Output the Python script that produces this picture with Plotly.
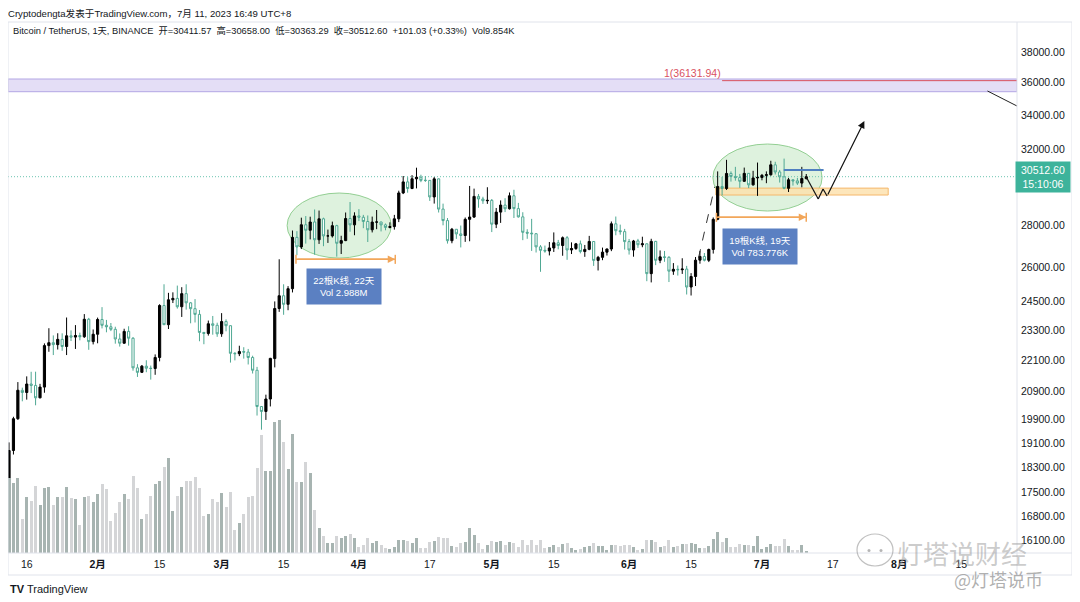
import math
import pandas as pd
import plotly.graph_objects as go

# ---------------- data (BTCUSDT daily, 2023-01-12 .. 2023-07-11) ----------------
dates = pd.date_range("2023-01-12", "2023-07-11", freq="D")

opens = [17943, 18846, 19930, 20952, 20872, 21185, 21133, 20677, 21071, 22667, 22783, 22706, 22917, 22632, 23061, 23009, 23074, 23022, 23743, 22827,
         23125, 23732, 23492, 23431, 23327, 22933, 22763, 23242, 22962, 21797, 21626, 21862, 21782, 21773, 22199, 24323, 23517, 24568, 24631, 24272, 24838, 24439, 24189, 23947, 23198, 23158, 23554, 23492,
         23142, 23647, 23476, 22362, 22346, 22431, 22410, 22198, 21704, 20363, 20187, 20633, 22157, 24197, 24747, 24375, 25055, 27424, 26965, 28038, 27768, 28176, 27307, 28334, 27494, 27494, 27994, 27140, 27268, 28348, 28033,
         28478, 28411, 28200, 27791, 28170, 28175, 28034, 27906, 27948, 28334, 29653, 30236, 29884, 30400, 30485, 30318, 30315, 29445, 30398, 28823, 28245, 27262, 27816, 27591, 27514, 28307, 28422, 29473, 29340, 29248,
         29268, 28068, 28669, 29026, 28838, 29506, 28848, 28431, 27668, 27628, 27599, 26969, 26806, 26775, 26917, 27163, 27033, 27405, 26822, 26890, 27113, 26747, 26850, 27225, 26334, 26476, 26720, 26868, 28085, 27745, 27702,
         27219, 26819, 27252, 27069, 27115, 25728, 27230, 26339, 26498, 26478, 25841, 25925, 25905, 25934, 25129, 25598, 26345, 26516, 26339, 26845, 28307, 29993, 29884, 30688, 30528, 30463, 30267, 30693, 30077, 30446,
         30472, 30586, 30617, 31156, 30767, 30504, 29896, 30346, 30292, 30172, 30411.57]

highs = [19117, 19999, 21258, 21050, 21473, 21647, 21650, 21192, 22755, 23371, 23078, 23165, 23162, 23816, 23282, 23500, 23189, 23960, 23800, 23320,
         23812, 24255, 23715, 23587, 23433, 23158, 23350, 23452, 23011, 21938, 21906, 22090, 21884, 22319, 24380, 25250, 24873, 24895, 25192, 25121, 25250, 24476, 24600, 24132, 23219, 23689, 23880, 23600,
         24000, 23739, 23479, 22410, 22662, 22603, 22534, 22267, 21834, 20367, 20792, 22185, 24500, 26386, 25250, 25168, 27756, 27725, 28390, 28472, 28439, 28803, 28748, 28390, 27802, 28194, 28037, 27500, 28650, 29184, 28660,
         28821, 28530, 28500, 28444, 28776, 28190, 28100, 28160, 28530, 29770, 30550, 30487, 30595, 31000, 30620, 30550, 30320, 30492, 30412, 29100, 28373, 27882, 27820, 28000, 28399, 30020, 29880, 29599, 29454, 29952,
         29338, 28879, 29266, 29379, 29677, 29820, 29138, 28663, 27818, 28331, 27630, 27051, 27030, 27200, 27663, 27300, 27466, 27485, 27183, 27155, 27271, 27060, 27495, 27225, 26543, 26934, 26888, 28200, 28448, 28044, 27835,
         27346, 27300, 27350, 27455, 27130, 27355, 27253, 26800, 26776, 26531, 26210, 26100, 26433, 26081, 25750, 26491, 26770, 26679, 26888, 28402, 30800, 30500, 31432, 30800, 31046, 30662, 31006, 30703, 30830, 31282,
         30660, 30800, 31380, 31325, 30877, 31500, 30449, 30380, 30445, 31046, 30658.00]

lows = [17883, 18714, 19889, 20551, 20611, 20850, 20407, 20659, 20862, 22422, 22293, 22511, 22462, 22293, 22850, 22534, 22878, 22977, 22500, 22715,
        22760, 23363, 23204, 23253, 22745, 22628, 22745, 22665, 21688, 21451, 21599, 21630, 21351, 21532, 22047, 23505, 23339, 24430, 24192, 23840, 24148, 23574, 23608, 22841, 22722, 23070, 23106, 23020,
        23020, 23245, 22000, 22086, 22252, 22153, 21927, 21580, 20042, 19549, 19888, 20366, 21814, 24054, 23930, 24123, 24890, 26578, 26865, 27125, 27325, 26601, 27108, 27000, 27156, 27415, 26508, 26631, 27241, 27696, 27525,
        28220, 27869, 27200, 27662, 27821, 27711, 27766, 27862, 27800, 28170, 29593, 29666, 29852, 29891, 30221, 30233, 29240, 29103, 28650, 28010, 27125, 27140, 27351, 26942, 27207, 27235, 28375, 28891, 29087, 29088,
        27680, 27873, 28130, 28670, 28800, 28374, 28395, 27288, 27353, 26777, 26702, 25811, 26692, 26565, 26727, 26852, 26550, 26361, 26631, 26823, 26661, 26500, 26810, 26080, 25871, 26343, 26560, 26766, 27524, 27552, 26841,
        26605, 26506, 26920, 26951, 25388, 25333, 26115, 26206, 26269, 25350, 25673, 25641, 25715, 24800, 24756, 25172, 26181, 26287, 26256, 26652, 28264, 29525, 29810, 30250, 30300, 29920, 30236, 29905, 30037, 29500,
        30320, 30166, 30566, 30633, 30200, 29850, 29701, 30038, 30073, 29950, 30363.29]

closes = [18846, 19930, 20954, 20872, 21185, 21133, 20677, 21071, 22667, 22783, 22707, 22917, 22632, 23061, 23009, 23074, 23022, 23743, 22827, 23125,
          23733, 23492, 23431, 23326, 22933, 22762, 23240, 22963, 21797, 21625, 21862, 21783, 21773, 22199, 24324, 23517, 24569, 24631, 24271, 24838, 24439, 24189, 23947, 23198, 23158, 23555, 23492, 23142,
          23647, 23475, 22362, 22346, 22431, 22410, 22197, 21705, 20363, 20187, 20633, 22163, 24197, 24746, 24375, 25055, 27423, 26966, 28039, 27768, 28175, 27307, 28334, 27493, 27494, 27994, 27139, 27268, 28348, 28033, 28478,
          28411, 28200, 27790, 28170, 28175, 28033, 27906, 27947, 28333, 29653, 30235, 29884, 30399, 30485, 30318, 30315, 29445, 30397, 28822, 28245, 27262, 27817, 27591, 27514, 28307, 28422, 29473, 29340, 29248, 29268,
          28068, 28669, 29026, 28838, 29506, 28848, 28430, 27668, 27628, 27599, 26969, 26805, 26775, 26917, 27163, 27033, 27405, 26822, 26890, 27112, 26747, 26849, 27226, 26334, 26476, 26720, 26868, 28085, 27745, 27702, 27219,
          26819, 27249, 27069, 27115, 25728, 27230, 26339, 26498, 26477, 25841, 25925, 25905, 25934, 25128, 25598, 26345, 26516, 26339, 26844, 28307, 29993, 29884, 30688, 30527, 30463, 30267, 30692, 30077, 30446, 30472,
          30585, 30617, 31156, 30767, 30504, 29895, 30346, 30292, 30171, 30414, 30512.60]

# volume in thousand BTC
volumes_k = [359, 336, 360, 163, 267, 251, 320, 230, 311, 317, 230, 269, 267, 317, 264, 259, 134, 269, 275, 243,
             285, 333, 306, 154, 192, 243, 282, 259, 368, 311, 163, 189, 272, 331, 346, 411, 455, 200, 275, 317, 346, 346, 363, 313, 179, 186, 259, 245,
             289, 219, 294, 112, 144, 186, 269, 275, 407, 566, 394, 394, 627, 638, 531, 403, 571, 341, 341, 435, 384, 205, 121, 80, 48, 48, 82, 73, 83, 90, 72,
             29, 38, 73, 48, 56, 38, 23, 19, 30, 64, 64, 58, 48, 71, 23, 25, 51, 58, 77, 72, 71, 32, 29, 49, 51, 119, 88, 48, 19, 38,
             59, 51, 58, 38, 54, 47, 29, 62, 38, 64, 38, 62, 23, 27, 38, 27, 45, 47, 23, 16, 19, 27, 35, 48, 35, 35, 16, 40, 38, 35, 40,
             38, 29, 13, 19, 62, 64, 54, 27, 35, 62, 27, 32, 42, 43, 47, 45, 24, 23, 35, 67, 102, 54, 71, 27, 29, 42, 40, 38, 35, 83,
             19, 27, 42, 32, 32, 66, 32, 16, 13, 40, 9.854]

price_tick_vals = [16100, 16800, 17500, 18300, 19100, 19900, 20900, 22100, 23300, 24500, 26000, 28000, 32000, 34000, 36000, 38000]
date_tick_vals = ["2023-01-16", "2023-02-01", "2023-02-15", "2023-03-01", "2023-03-15", "2023-04-01", "2023-04-17", "2023-05-01",
                  "2023-05-15", "2023-06-01", "2023-06-15", "2023-07-01", "2023-07-17", "2023-08-01", "2023-08-15"]
date_tick_text = ["16", "<b>2月</b>", "15", "<b>3月</b>", "15", "<b>4月</b>", "17", "<b>5月</b>", "15", "<b>6月</b>", "15", "<b>7月</b>", "17", "<b>8月</b>", "15"]

last_price = 30512.60
fib_level = 36131.94

assert len(dates) == len(opens) == len(highs) == len(lows) == len(closes) == len(volumes_k)

# ---------------- figure ----------------
# the page body has an 8px default margin, so the figure is 8px smaller and offset
OFF = 8
W, H = 1080 - OFF, 602 - OFF
def px(x): return (x - OFF) / W
def py(y): return 1 - (y - OFF) / H
L = math.log10   # annotations on a log axis use log10 positions; shapes use data values

X0, X1 = "2023-01-11 18:30", "2023-08-27 14:00"
FONT = "Arial, Liberation Sans, Noto Sans CJK SC, sans-serif"
TXT = "#131722"
ORANGE = "#f2a65a"

up_vol = "#a7b4b1"
dn_vol = "#d4d5d7"
vol_colors = [up_vol if c >= o else dn_vol for o, c in zip(opens, closes)]

fig = go.Figure()
fig.add_trace(go.Candlestick(x=dates, open=opens, high=highs, low=lows, close=closes, yaxis="y",
                             increasing=dict(line=dict(color="#000000", width=1), fillcolor="#000000"),
                             decreasing=dict(line=dict(color="#4fa893", width=1), fillcolor="#ffffff"),
                             whiskerwidth=0, showlegend=False))
fig.add_trace(go.Bar(x=dates, y=volumes_k, marker=dict(color=vol_colors, line=dict(width=0)),
                     width=0.68 * 86400000, yaxis="y2", showlegend=False, hoverinfo="skip"))

shapes = []
# purple resistance zone
shapes.append(dict(type="rect", xref="x", yref="y", x0=X0, x1=X1, y0=35435, y1=36237,
                   fillcolor="#e4def6", line=dict(color="#b3a6e4", width=1), layer="below"))
# fib level line
shapes.append(dict(type="line", xref="x", yref="y", x0="2023-06-22", x1=X1, y0=fib_level, y1=fib_level,
                   line=dict(color="#d9515f", width=1)))
# green ellipses
shapes.append(dict(type="circle", xref="x", yref="y", x0="2023-03-15 19:00", x1="2023-04-08 07:00", y0=26443, y1=29649,
                   fillcolor="rgba(200,234,200,0.6)", line=dict(color="#93cf93", width=1), layer="below"))
shapes.append(dict(type="circle", xref="x", yref="y", x0="2023-06-19 22:00", x1="2023-07-14 14:00", y0=28724, y1=32319,
                   fillcolor="rgba(200,234,200,0.6)", line=dict(color="#93cf93", width=1), layer="below"))
# orange support zone
shapes.append(dict(type="rect", xref="x", yref="y", x0="2023-06-20 14:00", x1="2023-07-29 12:00", y0=29545, y1=29906,
                   fillcolor="rgba(253,224,170,0.8)", line=dict(color="#f5b76a", width=1), layer="below"))
# blue horizontal line
shapes.append(dict(type="line", xref="x", yref="y", x0="2023-07-05 22:00", x1="2023-07-14 22:00", y0=30874, y1=30874,
                   line=dict(color="#4f7fc0", width=2)))
# last-price dotted line
shapes.append(dict(type="line", xref="x", yref="y", x0=X0, x1=X1, y0=last_price, y1=last_price,
                   line=dict(color="#6cc4b0", width=1, dash="1px,2px"), layer="below"))
# diagonal line top-right
shapes.append(dict(type="line", xref="x", yref="y", x0="2023-08-20 22:00", x1=X1, y0=35480, y1=34555,
                   line=dict(color="#222222", width=1)))
# dashed measuring line
shapes.append(dict(type="line", xref="x", yref="y", x0="2023-06-16 16:00", x1="2023-06-20 08:00", y0=26443, y1=29979,
                   line=dict(color="#333333", width=1, dash="dash")))
# measure ranges (orange)
measures = [("2023-03-17 19:00", "2023-04-09 05:00", 26383), ("2023-06-20 17:00", "2023-07-11 00:00", 28409)]
for xa, xb, yv in measures:
    shapes.append(dict(type="line", xref="x", yref="y", x0=xa, x1=xb, y0=yv, y1=yv, line=dict(color=ORANGE, width=1.5)))
    for xe in (xa, xb):
        shapes.append(dict(type="line", xref="x", yref="y", x0=xe, x1=xe, y0=yv / 1.008, y1=yv * 1.008,
                           line=dict(color=ORANGE, width=1.5)))
# projected zig-zag path
zig_x = ["2023-07-11 00:00", "2023-07-13 17:00", "2023-07-14 19:00", "2023-07-15 17:00"]
zig_y = [30496, 29336, 29860, 29491]
for i in range(len(zig_x) - 1):
    shapes.append(dict(type="line", xref="x", yref="y", x0=zig_x[i], x1=zig_x[i + 1], y0=zig_y[i], y1=zig_y[i + 1],
                       line=dict(color="#111111", width=1.2)))
# pane frame
shapes.append(dict(type="rect", xref="paper", yref="paper", x0=px(8), x1=px(1072), y0=py(575), y1=py(22),
                   line=dict(color="#e0e3eb", width=1), fillcolor="rgba(0,0,0,0)"))
shapes.append(dict(type="line", xref="paper", yref="paper", x0=px(1017), x1=px(1017), y0=py(575), y1=py(22),
                   line=dict(color="#e0e3eb", width=1)))
shapes.append(dict(type="line", xref="paper", yref="paper", x0=px(8), x1=px(1072), y0=py(553), y1=py(553),
                   line=dict(color="#e0e3eb", width=1)))
# wechat-like icon of the watermark
shapes.append(dict(type="circle", xref="paper", yref="paper", x0=px(857), x1=px(893), y0=py(566), y1=py(534),
                   line=dict(color="rgba(150,150,150,0.6)", width=1.2)))
for cx in (869, 881):
    shapes.append(dict(type="circle", xref="paper", yref="paper", x0=px(cx - 1.5), x1=px(cx + 1.5), y0=py(552), y1=py(549),
                       fillcolor="rgba(150,150,150,0.7)", line=dict(width=0)))

annotations = []
# arrow for projection
annotations.append(dict(xref="x", yref="y", axref="x", ayref="y", x="2023-07-24 03:00", y=L(33656),
                        ax=zig_x[-1], ay=L(zig_y[-1]), showarrow=True, arrowhead=2, arrowsize=1.2, arrowwidth=1.2,
                        arrowcolor="#111111", text=""))
# orange arrowheads on measure lines
for xa, xb, yv in measures:
    annotations.append(dict(xref="x", yref="y", axref="x", ayref="y", x=xb, y=L(yv), ax=xa, ay=L(yv),
                            showarrow=True, arrowhead=2, arrowsize=1, arrowwidth=1.5, arrowcolor=ORANGE, text=""))
# header
annotations.append(dict(xref="paper", yref="paper", x=px(6), y=py(13.5), xanchor="left", yanchor="middle", showarrow=False,
                        text="Cryptodengta发表于TradingView.com，7月 11, 2023 16:49 UTC+8",
                        font=dict(family=FONT, size=9.6, color=TXT)))
annotations.append(dict(xref="paper", yref="paper", x=px(11), y=py(31), xanchor="left", yanchor="middle", showarrow=False,
                        text="Bitcoin / TetherUS, 1天, BINANCE  开=30411.57  高=30658.00  低=30363.29  收=30512.60  +101.03 (+0.33%)  Vol9.854K",
                        font=dict(family=FONT, size=9.3, color=TXT)))
# faint symbol watermark in the pane
annotations.append(dict(xref="paper", yref="paper", x=px(510), y=py(262), showarrow=False,
                        text="BTCUSDT, 1D", font=dict(family=FONT, size=44, color="rgba(120,140,140,0.02)")))
annotations.append(dict(xref="paper", yref="paper", x=px(510), y=py(330), showarrow=False,
                        text="Bitcoin / TetherUS", font=dict(family=FONT, size=24, color="rgba(120,140,140,0.02)")))
# fib label
annotations.append(dict(xref="x", yref="y", x="2023-06-15 06:00", y=L(36622), showarrow=False,
                        text="1(36131.94)", font=dict(family=FONT, size=10.5, color="#d9515f")))
# info boxes
annotations.append(dict(xref="x", yref="y", x="2023-03-28 17:00", y=L(25130), showarrow=False,
                        text="22根K线, 22天<br>Vol 2.988M", bgcolor="#5b80c2", borderpad=4, width=66, height=27,
                        font=dict(family=FONT, size=9.5, color="#ffffff")))
annotations.append(dict(xref="x", yref="y", x="2023-06-30 12:00", y=L(26988), showarrow=False,
                        text="19根K线, 19天<br>Vol 783.776K", bgcolor="#5b80c2", borderpad=4, width=66, height=27,
                        font=dict(family=FONT, size=9.5, color="#ffffff")))
# last price label
annotations.append(dict(xref="paper", yref="y", x=px(1015), y=L(last_price), xanchor="left", yanchor="middle", showarrow=False,
                        text="30512.60<br>15:10:06", bgcolor="#3db39b", borderpad=2, width=50, align="center",
                        font=dict(family=FONT, size=10.5, color="#ffffff")))
# TradingView logo text
annotations.append(dict(xref="paper", yref="paper", x=px(8), y=py(589), xanchor="left", yanchor="middle", showarrow=False,
                        text="<b>TV</b> TradingView", font=dict(family=FONT, size=11, color=TXT)))
# watermarks
annotations.append(dict(xref="paper", yref="paper", x=px(962), y=py(552), xanchor="center", yanchor="middle", showarrow=False,
                        text="灯塔说财经", font=dict(family="Noto Sans CJK SC", size=26, color="rgba(160,160,160,0.55)")))
annotations.append(dict(xref="paper", yref="paper", x=px(998), y=py(579), xanchor="center", yanchor="middle", showarrow=False,
                        text="@灯塔说币", font=dict(family="Noto Sans CJK SC", size=18, color="rgba(150,150,150,0.75)")))

fig.update_layout(
    width=W, height=H, margin=dict(l=0, r=0, t=0, b=0),
    paper_bgcolor="#ffffff", plot_bgcolor="#ffffff",
    font=dict(family=FONT, size=11, color=TXT),
    showlegend=False, bargap=0,
    xaxis=dict(type="date", range=[X0, X1], domain=[px(8), px(1017)], anchor="y",
               tickvals=date_tick_vals, ticktext=date_tick_text, ticks="", showgrid=False, zeroline=False,
               showline=False, rangeslider=dict(visible=False), ticklabelstandoff=3,
               tickfont=dict(size=10.5, color=TXT)),
    yaxis=dict(type="log", domain=[py(553), py(22)], side="right", anchor="x",
               range=[L(15736), L(40060)], tickvals=price_tick_vals,
               ticktext=[f"{v:.2f}" for v in price_tick_vals], ticks="", ticklabelstandoff=3,
               showgrid=False, zeroline=False, showline=False, tickfont=dict(size=10.5, color=TXT)),
    yaxis2=dict(overlaying="y", range=[0, 2547], visible=False, showgrid=False, fixedrange=True),
    shapes=shapes, annotations=annotations,
)

fig.write_html("out.html")
